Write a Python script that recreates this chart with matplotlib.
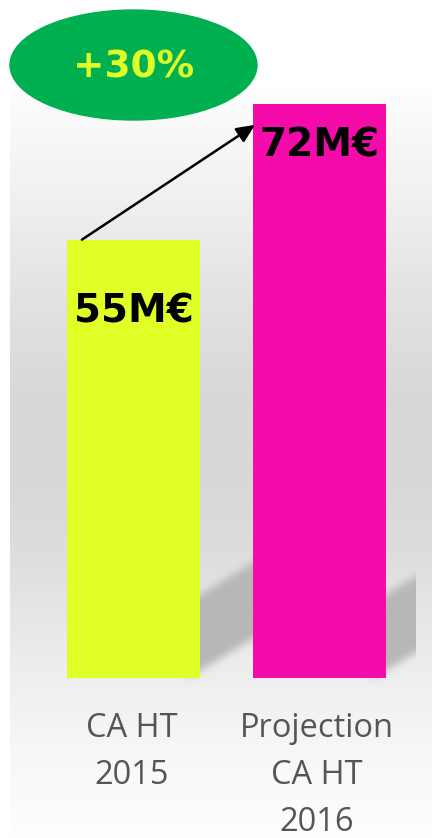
import numpy as np
import matplotlib
matplotlib.use("Agg")
import matplotlib.pyplot as plt
from matplotlib.patches import Ellipse

# donnees du graphique
categories = ["CA HT\n2015", "Projection\nCA HT\n2016"]
values = [55, 72]
value_labels = ["55M€", "72M€"]
bar_colors = ["#DFFF26", "#F50BAA"]
growth_label = "+30%"

W, H = 432, 838
fig = plt.figure(figsize=(W / 100, H / 100), dpi=100)
ax = fig.add_axes([0, 0, 1, 1])
ax.axis("off")

# echelles : 1 unite ~ 7.97 px en y, 1 categorie ~ 185.5 px en x
py = 7.97
px = 185.5
xlim = (-133.5 / px, (W - 133.5) / px)
ylim = (-(H - 678) / py, 678 / py)
ax.set_xlim(*xlim)
ax.set_ylim(*ylim)
bar_width = 133 / px


def to_px(x, y):
    # coordonnees donnees -> pixels (origine en haut a gauche)
    dx, dy = ax.transData.transform((x, y))
    return dx, H - dy


# fond degrade + ombres des barres
x0_px = 10
yy, xx = np.mgrid[0:H, x0_px:W].astype(float)
stops_y = [0, 85, 100, 200, 300, 400, 480, 550, 650, 690, 760, 838]
stops_g = [255, 255, 252, 240, 226, 216, 216, 221, 235, 240, 248, 254]
grad = np.interp(yy[:, 0], stops_y, stops_g)[:, None] * np.ones_like(xx)

mask = np.zeros_like(xx)
shadow_len = [60, 30]
for i, v in enumerate(values):
    xr, yb = to_px(i + bar_width / 2, 0)
    rel = xx - xr
    top = yb - 84 - 0.6 * rel
    bot = yb - 8 - 0.6 * rel
    inside = (rel > -15) & (rel < shadow_len[i] + 10) & (yy > top) & (yy < bot)
    mask[inside] = 1.0

k = np.exp(-0.5 * (np.arange(-12, 13) / 4.0) ** 2)
k /= k.sum()
mask = np.apply_along_axis(lambda r: np.convolve(r, k, mode="same"), 1, mask)
mask = np.apply_along_axis(lambda c: np.convolve(c, k, mode="same"), 0, mask)
xr2, _ = to_px(1 + bar_width / 2, 0)
mask[:, xx[0] > xr2 + shadow_len[1]] = 0

img = grad * (1 - mask) + 183 * mask
img = np.dstack([img] * 3) / 255.0
ext_x0 = xlim[0] + x0_px / px
ax.imshow(img, extent=(ext_x0, xlim[1], ylim[0], ylim[1]), aspect="auto",
          interpolation="bilinear", zorder=0)
ax.set_xlim(*xlim)
ax.set_ylim(*ylim)

# barres
ax.bar(range(len(values)), values, width=bar_width, color=bar_colors, zorder=2)

# etiquettes de valeur
label_offsets = [-83, -52]
for i, (v, lab) in enumerate(zip(values, value_labels)):
    ax.annotate(lab, xy=(i, v), xytext=(0, label_offsets[i]), textcoords="offset pixels",
                ha="center", va="baseline", fontsize=28, fontweight="bold",
                family="DejaVu Sans", color="black", zorder=4)

# categories
for i, cat in enumerate(categories):
    ax.annotate(cat, xy=(i, 0), xytext=(-2, -34), textcoords="offset pixels",
                ha="center", va="top", fontsize=23.5, family="Open Sans",
                color="#555555", linespacing=1.55, zorder=4)

# fleche de progression
arrow_start = (0 - 0.278, values[0])
arrow_end = (1 - 0.345, values[1] - 2.6)
ax.annotate("", xy=arrow_end, xytext=arrow_start,
            arrowprops=dict(arrowstyle="-|>,head_length=0.55,head_width=0.25",
                            color="black", lw=1.8, mutation_scale=20,
                            shrinkA=0, shrinkB=0), zorder=5)

# pastille +30%
ell_y = (678 - 65) / py
ax.add_patch(Ellipse((0, ell_y), 247 / px, 110 / py, color="#00B050", zorder=3))
ax.annotate(growth_label, xy=(0, ell_y), xytext=(0, -12), textcoords="offset pixels",
            ha="center", va="baseline", fontsize=27, fontweight="bold",
            family="DejaVu Sans", color=bar_colors[0], zorder=4)

fig.savefig("out.png", dpi=100)
